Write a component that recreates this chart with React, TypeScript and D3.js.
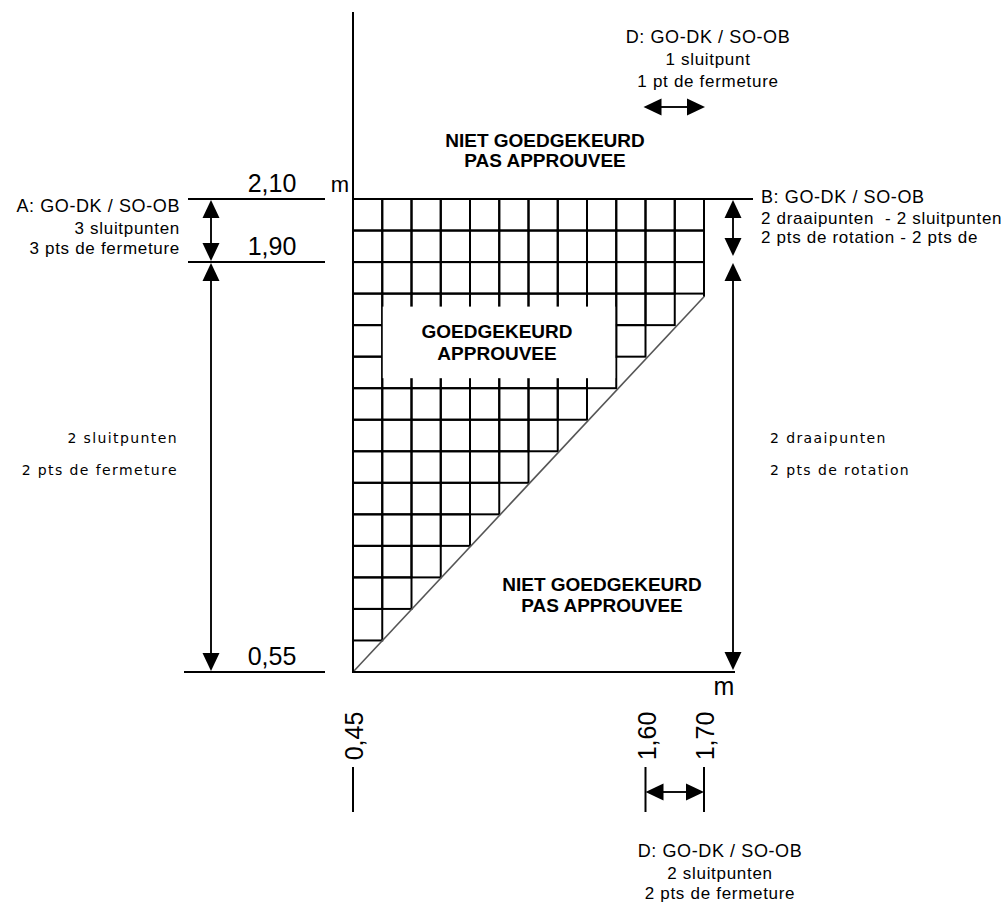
import React from 'react';
import * as d3 from 'd3';

// Schematic grid: number of full cells drawn in each row (top → bottom)
const rowCells = [12, 12, 12, 11, 10, 9, 8, 7, 6, 5, 4, 3, 2, 1, 0];
const nCols = 12;
const nRows = 15;

// Height ticks (m) and the grid row they sit on
const yTickLabels = ['2,10', '1,90', '0,55'];
const yTickRows = [0, 2, 15];

// Width ticks (m) and the grid column they sit on
const xTickLabels = ['0,45', '1,60', '1,70'];
const xTickCols = [0, 10, 12];

// diagonal limit: from (col 0,row 15) to (col 12,row 3.1)
const diagStart = [0, 15];
const diagEnd = [12, 3.1];

// "approved" label box (cells)
const boxCols = [1, 9];
const boxRows = [3, 6];

const blockA = ['A: GO-DK / SO-OB', '3 sluitpunten', '3 pts de fermeture'];
const blockB = ['B: GO-DK / SO-OB', '2 draaipunten  - 2 sluitpunten', '2 pts de rotation - 2 pts de'];
const blockDTop = ['D: GO-DK / SO-OB', '1 sluitpunt', '1 pt de fermeture'];
const blockDBottom = ['D: GO-DK / SO-OB', '2 sluitpunten', '2 pts de fermeture'];
const leftSide = ['2 sluitpunten', '2 pts de fermeture'];
const rightSide = ['2 draaipunten', '2 pts de rotation'];
const notApproved = ['NIET GOEDGEKEURD', 'PAS APPROUVEE'];
const approved = ['GOEDGEKEURD', 'APPROUVEE'];

const W = 1007;
const H = 906;
const FONT = '"Liberation Sans", Arial, sans-serif';
const PIX = '"DejaVu Sans", sans-serif';

const x = d3.scaleLinear().domain([0, nCols]).range([353, 704]);
const y = d3.scaleLinear().domain([0, nRows]).range([199, 672]);

const AL = 18;
const AW = 8.5;
function head(px: number, py: number, dir: string) {
  const p = d3.path();
  if (dir === 'up') { p.moveTo(px, py); p.lineTo(px - AW, py + AL); p.lineTo(px + AW, py + AL); }
  if (dir === 'down') { p.moveTo(px, py); p.lineTo(px - AW, py - AL); p.lineTo(px + AW, py - AL); }
  if (dir === 'left') { p.moveTo(px, py); p.lineTo(px + AL, py - AW); p.lineTo(px + AL, py + AW); }
  if (dir === 'right') { p.moveTo(px, py); p.lineTo(px - AL, py - AW); p.lineTo(px - AL, py + AW); }
  p.closePath();
  return p.toString();
}

function VArrow({ ax, y1, y2 }: { ax: number; y1: number; y2: number }) {
  return (
    <g>
      <line x1={ax} x2={ax} y1={y1 + AL - 2} y2={y2 - AL + 2} stroke="#111" strokeWidth={2} />
      <path d={head(ax, y1, 'up')} fill="#000" />
      <path d={head(ax, y2, 'down')} fill="#000" />
    </g>
  );
}
function HArrow({ ay, x1, x2 }: { ay: number; x1: number; x2: number }) {
  return (
    <g>
      <line x1={x1 + AL - 2} x2={x2 - AL + 2} y1={ay} y2={ay} stroke="#111" strokeWidth={2} />
      <path d={head(x1, ay, 'left')} fill="#000" />
      <path d={head(x2, ay, 'right')} fill="#000" />
    </g>
  );
}

function Block({ lines, tx, ty, anchor, gaps }: { lines: string[]; tx: number; ty: number; anchor: string; gaps: number[] }) {
  return (
    <g fontFamily={FONT} fill="#000" textAnchor={anchor as any}>
      {lines.map((t, i) => (
        <text key={i} x={tx} y={ty + gaps[i]} fontSize={i === 0 ? 18 : 17} letterSpacing={i === 0 ? 0.6 : 0.7} style={{ whiteSpace: 'pre' }}>
          {t}
        </text>
      ))}
    </g>
  );
}

export default function App() {
  const cells: { c: number; r: number }[] = [];
  rowCells.forEach((n, r) => {
    for (let c = 0; c < n; c++) cells.push({ c, r });
  });

  const axisX = x(0);
  const yTop = y(0);
  const yBot = y(nRows);

  return (
    <svg width={W} height={H} viewBox={`0 0 ${W} ${H}`} style={{ position: 'absolute', left: 0, top: 0, background: '#fff' }}>
      <rect width={W} height={H} fill="#fff" />

      {/* grid cells */}
      <g stroke="#000" strokeWidth={2} fill="none">
        {cells.map(({ c, r }) => (
          <rect key={`${c}-${r}`} x={x(c)} y={y(r)} width={x(c + 1) - x(c)} height={y(r + 1) - y(r)} />
        ))}
      </g>

      {/* approved white box */}
      <rect x={x(boxCols[0]) + 0.5} y={y(boxRows[0]) + 13} width={x(boxCols[1]) - x(boxCols[0]) - 1.5} height={y(boxRows[1]) - y(boxRows[0]) - 23} fill="#fff" />
      <g fontFamily={FONT} fontWeight="bold" fontSize={19} textAnchor="middle" fill="#000">
        <text x={497} y={338}>{approved[0]}</text>
        <text x={497} y={360}>{approved[1]}</text>
      </g>

      {/* right border + diagonal */}
      <line x1={x(nCols)} x2={x(nCols)} y1={yTop} y2={y(diagEnd[1])} stroke="#000" strokeWidth={2} />
      <line x1={x(diagStart[0])} y1={y(diagStart[1])} x2={x(diagEnd[0])} y2={y(diagEnd[1])} stroke="#555" strokeWidth={1.6} />

      {/* axes */}
      <line x1={axisX} x2={axisX} y1={12} y2={yBot + 1} stroke="#000" strokeWidth={2} />
      <line x1={axisX} x2={753} y1={yTop} y2={yTop} stroke="#000" strokeWidth={2} />
      <line x1={axisX} x2={735} y1={yBot} y2={yBot} stroke="#000" strokeWidth={2.2} />

      {/* left height ticks */}
      {yTickRows.map((r, i) => (
        <g key={i}>
          <line x1={r === nRows ? 184 : 188} x2={325} y1={y(r)} y2={y(r)} stroke="#000" strokeWidth={2} />
          <text x={272} y={y(r) - 7} fontFamily={FONT} fontSize={25} textAnchor="middle" fill="#000">{yTickLabels[i]}</text>
        </g>
      ))}
      <text x={340} y={192} fontFamily={FONT} fontSize={22} textAnchor="middle" fill="#000">m</text>
      <text x={724} y={695} fontFamily={FONT} fontSize={25} textAnchor="middle" fill="#000">m</text>

      {/* width ticks (rotated) */}
      {xTickCols.map((c, i) => (
        <g key={i}>
          <text transform={`translate(${x(c) + 10},736) rotate(-90)`} fontFamily={FONT} fontSize={25} textAnchor="middle" fill="#000">{xTickLabels[i]}</text>
          <line x1={x(c)} x2={x(c)} y1={767} y2={812} stroke="#000" strokeWidth={2} />
        </g>
      ))}
      <HArrow ay={792} x1={x(xTickCols[1])} x2={x(xTickCols[2])} />
      <HArrow ay={107} x1={x(xTickCols[1]) - 2} x2={x(xTickCols[2]) + 1} />

      {/* vertical dimension arrows */}
      <VArrow ax={211} y1={yTop + 1} y2={y(yTickRows[1]) - 1} />
      <VArrow ax={211} y1={y(yTickRows[1]) + 1} y2={yBot - 1} />
      <VArrow ax={733} y1={yTop + 1} y2={256} />
      <VArrow ax={733} y1={263} y2={yBot - 2} />

      {/* text blocks */}
      <Block lines={blockA} tx={180} ty={212} anchor="end" gaps={[0, 22, 42]} />
      <Block lines={blockB} tx={761} ty={203} anchor="start" gaps={[0, 21, 40]} />
      <Block lines={blockDTop} tx={708} ty={43} anchor="middle" gaps={[0, 22, 44]} />
      <Block lines={blockDBottom} tx={720} ty={857} anchor="middle" gaps={[0, 22, 42]} />

      <g fontFamily={PIX} fontSize={14} letterSpacing={1.4} fill="#000">
        <text x={178} y={443} textAnchor="end">{leftSide[0]}</text>
        <text x={178} y={475} textAnchor="end">{leftSide[1]}</text>
        <text x={770} y={443}>{rightSide[0]}</text>
        <text x={770} y={475}>{rightSide[1]}</text>
      </g>

      <g fontFamily={FONT} fontWeight="bold" fontSize={19} textAnchor="middle" fill="#000">
        <text x={545} y={147}>{notApproved[0]}</text>
        <text x={545} y={167}>{notApproved[1]}</text>
        <text x={602} y={591}>{notApproved[0]}</text>
        <text x={602} y={612}>{notApproved[1]}</text>
      </g>
    </svg>
  );
}
